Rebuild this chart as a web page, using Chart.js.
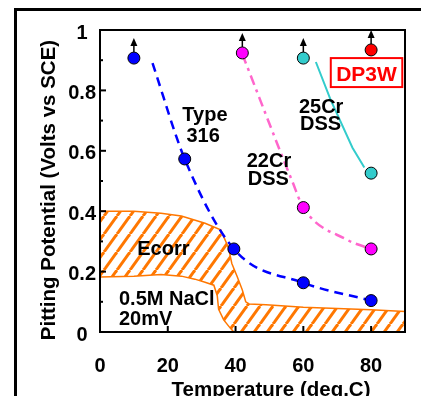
<!DOCTYPE html>
<html>
<head>
<meta charset="utf-8">
<script src="https://cdn.jsdelivr.net/npm/chart.js@4/dist/chart.umd.min.js"></script>
<style>
  body { margin: 0; background: #fff; }
  #wrap { width: 421px; height: 396px; }
</style>
</head>
<body>
<div id="wrap"><canvas id="myChart" width="421" height="396"></canvas></div>
<script>
const xTicks = [0, 20, 40, 60, 80];
const yTicks = [0, 0.2, 0.4, 0.6, 0.8, 1];
const yMinorTicks = [0.1, 0.3, 0.5, 0.7, 0.9];

// measured points (temperature, potential)
const type316X = [10, 25, 39.5, 60, 80];
const type316Y = [0.907, 0.573, 0.275, 0.163, 0.104];
const cr22X = [42, 60, 80];
const cr22Y = [0.924, 0.412, 0.275];
const cr25X = [60, 80];
const cr25Y = [0.907, 0.526];
const dp3wX = [80];
const dp3wY = [0.934];

// trend curves
const type316CurveX = [15.5, 25, 39.5, 60, 80];
const type316CurveY = [0.89, 0.573, 0.275, 0.163, 0.104];
const cr22CurveX = [42, 56.8, 60, 73, 80];
const cr22CurveY = [0.92, 0.497, 0.412, 0.305, 0.275];
const cr25CurveX = [63.7, 68, 74.5, 78];
const cr25CurveY = [0.894, 0.77, 0.61, 0.545];

// Ecorr band
const ecorrTopX = [0, 10, 18, 24, 31, 35.6, 37.9, 38.9, 40.5, 42, 43, 44, 49, 60, 80, 90];
const ecorrTopY = [0.4, 0.4, 0.393, 0.384, 0.36, 0.338, 0.28, 0.227, 0.183, 0.139, 0.1, 0.093, 0.09, 0.082, 0.074, 0.068];
const ecorrLowX = [0, 10, 18, 24, 28, 31, 33.6, 34.6, 35, 36.5, 38.5, 39.5, 90];
const ecorrLowY = [0.182, 0.185, 0.19, 0.185, 0.175, 0.165, 0.155, 0.12, 0.075, 0.04, 0.012, 0, 0];

const orange = "#ff7700";
const font = "'Liberation Sans', Arial, sans-serif";

function toPoints(xs, ys) {
    return xs.map((x, i) => ({ x: x, y: ys[i] }));
}

function makeHatch() {
    const c = document.createElement("canvas");
    c.width = 13;
    c.height = 18;
    const g = c.getContext("2d");
    g.strokeStyle = orange;
    g.lineWidth = 3;
    for (let k = -1; k <= 1; k++) {
        g.beginPath();
        g.moveTo(k * 13, 18);
        g.lineTo(k * 13 + 13, 0);
        g.stroke();
    }
    return g.createPattern(c, "repeat");
}

function markers(xs, ys, color) {
    return {
        data: toPoints(xs, ys),
        showLine: false,
        pointRadius: 6,
        pointHoverRadius: 6,
        pointBackgroundColor: color,
        pointBorderColor: "#000",
        pointBorderWidth: 1,
    };
}

const arrows = [[0, 0], [1, 0], [2, 0], [3, 0]];

const framePlugin = {
    id: "frame",
    afterDatasetsDraw(chart) {
        const ctx = chart.ctx;
        ctx.save();
        ctx.fillStyle = "#000";
        ctx.strokeStyle = "#000";
        ctx.lineWidth = 1.5;
        for (const [d, p] of arrows) {
            const el = chart.getDatasetMeta(d).data[p];
            ctx.beginPath();
            ctx.moveTo(el.x, el.y - 6);
            ctx.lineTo(el.x, el.y - 13);
            ctx.stroke();
            ctx.beginPath();
            ctx.moveTo(el.x, el.y - 20);
            ctx.lineTo(el.x - 3.5, el.y - 12);
            ctx.lineTo(el.x + 3.5, el.y - 12);
            ctx.closePath();
            ctx.fill();
        }
        ctx.restore();
    },
    afterDraw(chart) {
        const ctx = chart.ctx;
        const a = chart.chartArea;
        const xs = chart.scales.x;
        const ys = chart.scales.y;
        ctx.save();

        ctx.strokeStyle = "#000";
        ctx.lineWidth = 2;
        for (const v of yTicks) {
            const py = ys.getPixelForValue(v);
            ctx.beginPath();
            ctx.moveTo(a.left, py);
            ctx.lineTo(a.left + 6, py);
            ctx.stroke();
        }
        for (const v of yMinorTicks) {
            const py = ys.getPixelForValue(v);
            ctx.beginPath();
            ctx.moveTo(a.left, py);
            ctx.lineTo(a.left + 3, py);
            ctx.stroke();
        }
        for (const v of xTicks) {
            const px = xs.getPixelForValue(v);
            ctx.beginPath();
            ctx.moveTo(px, a.bottom);
            ctx.lineTo(px, a.bottom - 6);
            ctx.stroke();
        }
        ctx.strokeRect(a.left, a.top, a.right - a.left, a.bottom - a.top);

        ctx.lineWidth = 3;
        ctx.strokeRect(15.5, 9.5, 600, 600);

        ctx.fillStyle = "#000";
        ctx.font = "bold 20px " + font;
        ctx.textAlign = "left";
        ctx.textBaseline = "alphabetic";
        const labels = [
            ["Type", 24.3, 0.699],
            ["316", 25.5, 0.629],
            ["22Cr", 43.3, 0.546],
            ["DSS", 43.6, 0.487],
            ["25Cr", 58.7, 0.725],
            ["DSS", 59.0, 0.669],
            ["Ecorr", 11.0, 0.255],
            ["0.5M NaCl", 5.6, 0.089],
            ["20mV", 5.6, 0.023],
        ];
        for (const [t, x, y] of labels) {
            ctx.fillText(t, xs.getPixelForValue(x), ys.getPixelForValue(y));
        }

        const bx1 = xs.getPixelForValue(68.1), bx2 = xs.getPixelForValue(89.2);
        const by1 = ys.getPixelForValue(0.907), by2 = ys.getPixelForValue(0.811);
        ctx.fillStyle = "#fff";
        ctx.fillRect(bx1, by1, bx2 - bx1, by2 - by1);
        ctx.strokeStyle = "#ff0000";
        ctx.lineWidth = 2;
        ctx.strokeRect(bx1, by1, bx2 - bx1, by2 - by1);
        ctx.fillStyle = "#ff0000";
        ctx.font = "bold 21px " + font;
        ctx.textAlign = "center";
        ctx.fillText("DP3W", (bx1 + bx2) / 2, ys.getPixelForValue(0.831));

        ctx.fillStyle = "#000";
        ctx.font = "bold 20.5px " + font;
        ctx.fillText("Temperature (deg.C)", 271, 396);
        ctx.translate(54.5, 190);
        ctx.rotate(-Math.PI / 2);
        ctx.fillText("Pitting Potential (Volts vs SCE)", 0, 0);
        ctx.restore();
    },
};

const datasets = [
    markers(dp3wX, dp3wY, "#ff0000"),
    markers(cr25X, cr25Y, "#33cccc"),
    markers(cr22X, cr22Y, "#ff00ff"),
    markers(type316X, type316Y, "#0000ff"),
    {
        data: toPoints(cr25CurveX, cr25CurveY),
        borderColor: "#33cccc",
        borderWidth: 2,
        pointRadius: 0,
        tension: 0,
    },
    {
        data: toPoints(cr22CurveX, cr22CurveY),
        borderColor: "#ff66cc",
        borderWidth: 2.5,
        borderDash: [10, 5, 3, 5],
        pointRadius: 0,
        cubicInterpolationMode: "monotone",
    },
    {
        data: toPoints(type316CurveX, type316CurveY),
        borderColor: "#0000ff",
        borderWidth: 2.5,
        borderDash: [9, 6],
        pointRadius: 0,
        cubicInterpolationMode: "monotone",
    },
    {
        data: toPoints(ecorrTopX, ecorrTopY),
        borderColor: orange,
        borderWidth: 1.5,
        backgroundColor: makeHatch(),
        pointRadius: 0,
        tension: 0,
        fill: "+1",
    },
    {
        data: toPoints(ecorrLowX, ecorrLowY),
        borderColor: orange,
        borderWidth: 1.5,
        pointRadius: 0,
        tension: 0,
    },
];

new Chart(document.getElementById("myChart"), {
    type: "line",
    data: { datasets },
    options: {
        responsive: false,
        animation: false,
        layout: { padding: { top: 30, right: 16, bottom: 0, left: 0 } },
        plugins: { legend: { display: false }, tooltip: { enabled: false } },
        scales: {
            x: {
                type: "linear",
                min: 0,
                max: 90,
                afterBuildTicks: (s) => { s.ticks = xTicks.map((v) => ({ value: v })); },
                afterFit: (s) => { s.height = 64; },
                grid: { display: false, drawTicks: false },
                border: { display: false },
                ticks: { color: "#000", font: { family: font, size: 20, weight: "bold" }, padding: 22, maxRotation: 0 },
            },
            y: {
                type: "linear",
                min: 0,
                max: 1,
                afterBuildTicks: (s) => { s.ticks = yTicks.map((v) => ({ value: v })); },
                afterFit: (s) => { s.width = 100; },
                grid: { display: false, drawTicks: false },
                border: { display: false },
                ticks: {
                    color: "#000",
                    font: { family: font, size: 20, weight: "bold" },
                    padding: 4,
                    crossAlign: "center",
                    labelOffset: 3,
                    callback: (v) => String(v),
                },
            },
        },
    },
    plugins: [framePlugin],
});
</script>
</body>
</html>
